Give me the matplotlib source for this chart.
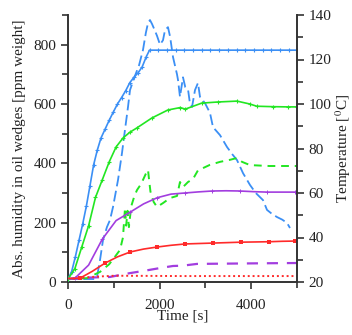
import matplotlib
matplotlib.use("Agg")
import matplotlib.pyplot as plt

plt.rcParams['font.family'] = ['Liberation Serif', 'DejaVu Serif']
plt.rcParams['mathtext.fontset'] = 'stix'

# ---------------- data ----------------
# Temperatures (right axis, degC), solid lines with markers
t_blue_T = [0, 80, 160, 240, 320, 400, 480, 560, 640, 720, 810, 900, 990, 1080, 1170,
            1260, 1350, 1440, 1530, 1620, 1710, 1780, 1970, 2160, 2350, 2540, 2730, 2920,
            3110, 3300, 3490, 3680, 3870, 4060, 4250, 4440, 4630, 4820, 5000]
T_blue = [21.3, 24.7, 31.3, 38.7, 46.0, 54.0, 63.3, 72.7, 79.3, 84.7, 88.7, 92.7, 96.4, 100.0,
          102.9, 106.0, 109.6, 112.0, 114.0, 116.7, 121.3, 124.2, 124.2, 124.2, 124.2, 124.2,
          124.2, 124.2, 124.2, 124.2, 124.2, 124.2, 124.2, 124.2, 124.2, 124.2, 124.2, 124.2, 124.2]

t_green_T = [0, 150, 300, 450, 600, 750, 900, 1050, 1200, 1350, 1500, 1830, 2180, 2450,
             2560, 2920, 3270, 3690, 3970, 4120, 4470, 4800, 5000]
T_green = [21.3, 26.0, 35.7, 45.3, 58.0, 66.0, 74.0, 80.7, 84.7, 87.3, 89.2, 93.7, 97.3, 98.4,
           97.7, 100.4, 100.9, 101.3, 100.0, 99.0, 98.8, 98.7, 98.7]

t_purple_T = [0, 150, 450, 750, 1050, 1350, 1650, 1950, 2250, 2550, 2850, 3150, 3450, 3750,
              4050, 4350, 4650, 4950, 5000]
T_purple = [21.5, 21.7, 27.6, 39.3, 47.6, 51.3, 55.1, 57.9, 59.5, 60.0, 60.5, 60.9, 61.0, 60.9,
            60.6, 60.4, 60.4, 60.4, 60.4]

t_red_T = [0, 260, 530, 810, 1080, 1360, 1650, 1940, 2250, 2560, 2860, 3170, 3480, 3780,
           4090, 4390, 4680, 4960, 5000]
T_red = [21.6, 21.7, 24.8, 28.5, 31.3, 33.5, 34.8, 35.7, 36.5, 37.1, 37.3, 37.5, 37.7, 37.9,
         38.0, 38.1, 38.3, 38.4, 38.4]

# Humidity (left axis, ppm weight), dashed / dotted lines
t_blue_H = [0, 580, 633, 699, 764, 850, 917, 983, 1092, 1179, 1250, 1310, 1354, 1450, 1550,
            1637, 1700, 1747, 1790, 1834, 1890, 1943, 2009, 2074, 2118, 2183, 2230, 2293,
            2380, 2402, 2445, 2511, 2560, 2620, 2664, 2708, 2773, 2838, 2882, 2991, 3100,
            3166, 3319, 3472, 3590, 3690, 3821, 3974, 4100, 4258, 4345, 4450, 4563, 4680,
            4782, 4847]
H_blue = [10, 10, 17, 74, 141, 185, 209, 253, 344, 435, 520, 590, 647, 690, 730,
          782, 840, 873, 883, 870, 850, 830, 800, 815, 849, 859, 826, 758,
          700, 681, 624, 690, 657, 650, 600, 590, 647, 671, 624, 603, 570,
          522, 495, 455, 430, 411, 367, 327, 300, 276, 243, 230, 219, 210,
          199, 182]

t_green_H = [0, 415, 699, 900, 1000, 1135, 1200, 1245, 1270, 1300, 1330, 1380, 1450, 1507,
             1572, 1637, 1700, 1747, 1770, 1800, 1870, 1943, 2074, 2227, 2380, 2445, 2511,
             2620, 2729, 2840, 2948, 3100, 3320, 3540, 3690, 3800, 3974, 4400, 5000]
H_green = [10, 13, 34, 60, 80, 108, 150, 250, 190, 240, 185, 255, 290, 310,
           325, 344, 365, 378, 345, 305, 270, 253, 266, 283, 290, 337, 320,
           337, 347, 377, 384, 395, 405, 412, 418, 405, 394, 391, 391]

t_purple_H = [0, 480, 917, 1354, 1637, 2009, 2293, 2500, 2817, 3500, 4200, 5000]
H_purple = [10, 15, 17, 30, 37, 47, 54, 55, 61, 62, 63, 64]

t_red_H = [0, 300, 600, 1000, 1300, 2500, 5000]
H_red = [10, 14, 18, 21, 21, 20, 20]

# ---------------- styles ----------------
c_blue = '#3b8ff5'
c_green = '#22e622'
c_purple = '#a23ddf'
c_red = '#ff2a2a'

fig = plt.figure(figsize=(3.52, 3.35), dpi=100)
ax = fig.add_axes([68/352, 1-282/335, (297-68)/352, (282-15)/335])
ax2 = ax.twinx()

# humidity lines (left)
ax.plot(t_blue_H, H_blue, color=c_blue, lw=1.3, dashes=(6, 2.5))
ax.plot(t_green_H, H_green, color=c_green, lw=1.4, dashes=(4, 3))
ax.plot(t_purple_H, H_purple, color=c_purple, lw=1.6, dashes=(5, 4))
ax.plot(t_red_H, H_red, color=c_red, lw=1.4, dashes=(1, 1.5))

# temperature lines (right)
ax2.plot(t_blue_T, T_blue, color=c_blue, lw=1.2, marker='+', ms=3, mew=0.8)
ax2.plot(t_green_T, T_green, color=c_green, lw=1.2, marker='+', ms=3, mew=0.8)
ax2.plot(t_purple_T, T_purple, color=c_purple, lw=1.2, marker='+', ms=3, mew=0.7,
         markevery=(1, 2))
ax2.plot(t_red_T, T_red, color=c_red, lw=1.2, marker='s', ms=3, mew=0,
         markevery=(1, 2))

ax.set_xlim(0, 5000)
ax.set_ylim(0, 900)
ax2.set_ylim(20, 140)

ax.set_xticks([0, 2000, 4000])
ax.set_xticks([1000, 3000, 5000], minor=True)
ax.set_yticks([0, 200, 400, 600, 800])
ax.set_yticks([100, 300, 500, 700, 900], minor=True)
ax2.set_yticks([20, 40, 60, 80, 100, 120, 140])
ax2.set_yticks([30, 50, 70, 90, 110, 130], minor=True)

spine_c = '#333333'
for a in (ax, ax2):
    a.spines['top'].set_visible(False)
    for s in ('left', 'right', 'bottom'):
        a.spines[s].set_linewidth(1.4)
        a.spines[s].set_color(spine_c)
    a.tick_params(which='major', direction='out', length=5, width=1.2, colors=spine_c,
                  labelsize=11, labelcolor='#222222')
    a.tick_params(which='minor', direction='out', length=4, width=1.2, colors=spine_c)
ax.tick_params(axis='x', which='major', pad=7)
ax.spines['right'].set_visible(False)
ax2.spines['left'].set_visible(False)
ax2.spines['bottom'].set_visible(False)

ax.set_xlabel('Time [s]', fontsize=11, labelpad=-1.5, color='#222222')
ax.set_ylabel('Abs. humidity in oil wedges [ppm weight]', fontsize=11, labelpad=5,
              color='#222222')
ax2.set_ylabel('Temperature [$^{0}$C]', fontsize=11, labelpad=1, color='#222222')

fig.savefig('out.png', dpi=100)
